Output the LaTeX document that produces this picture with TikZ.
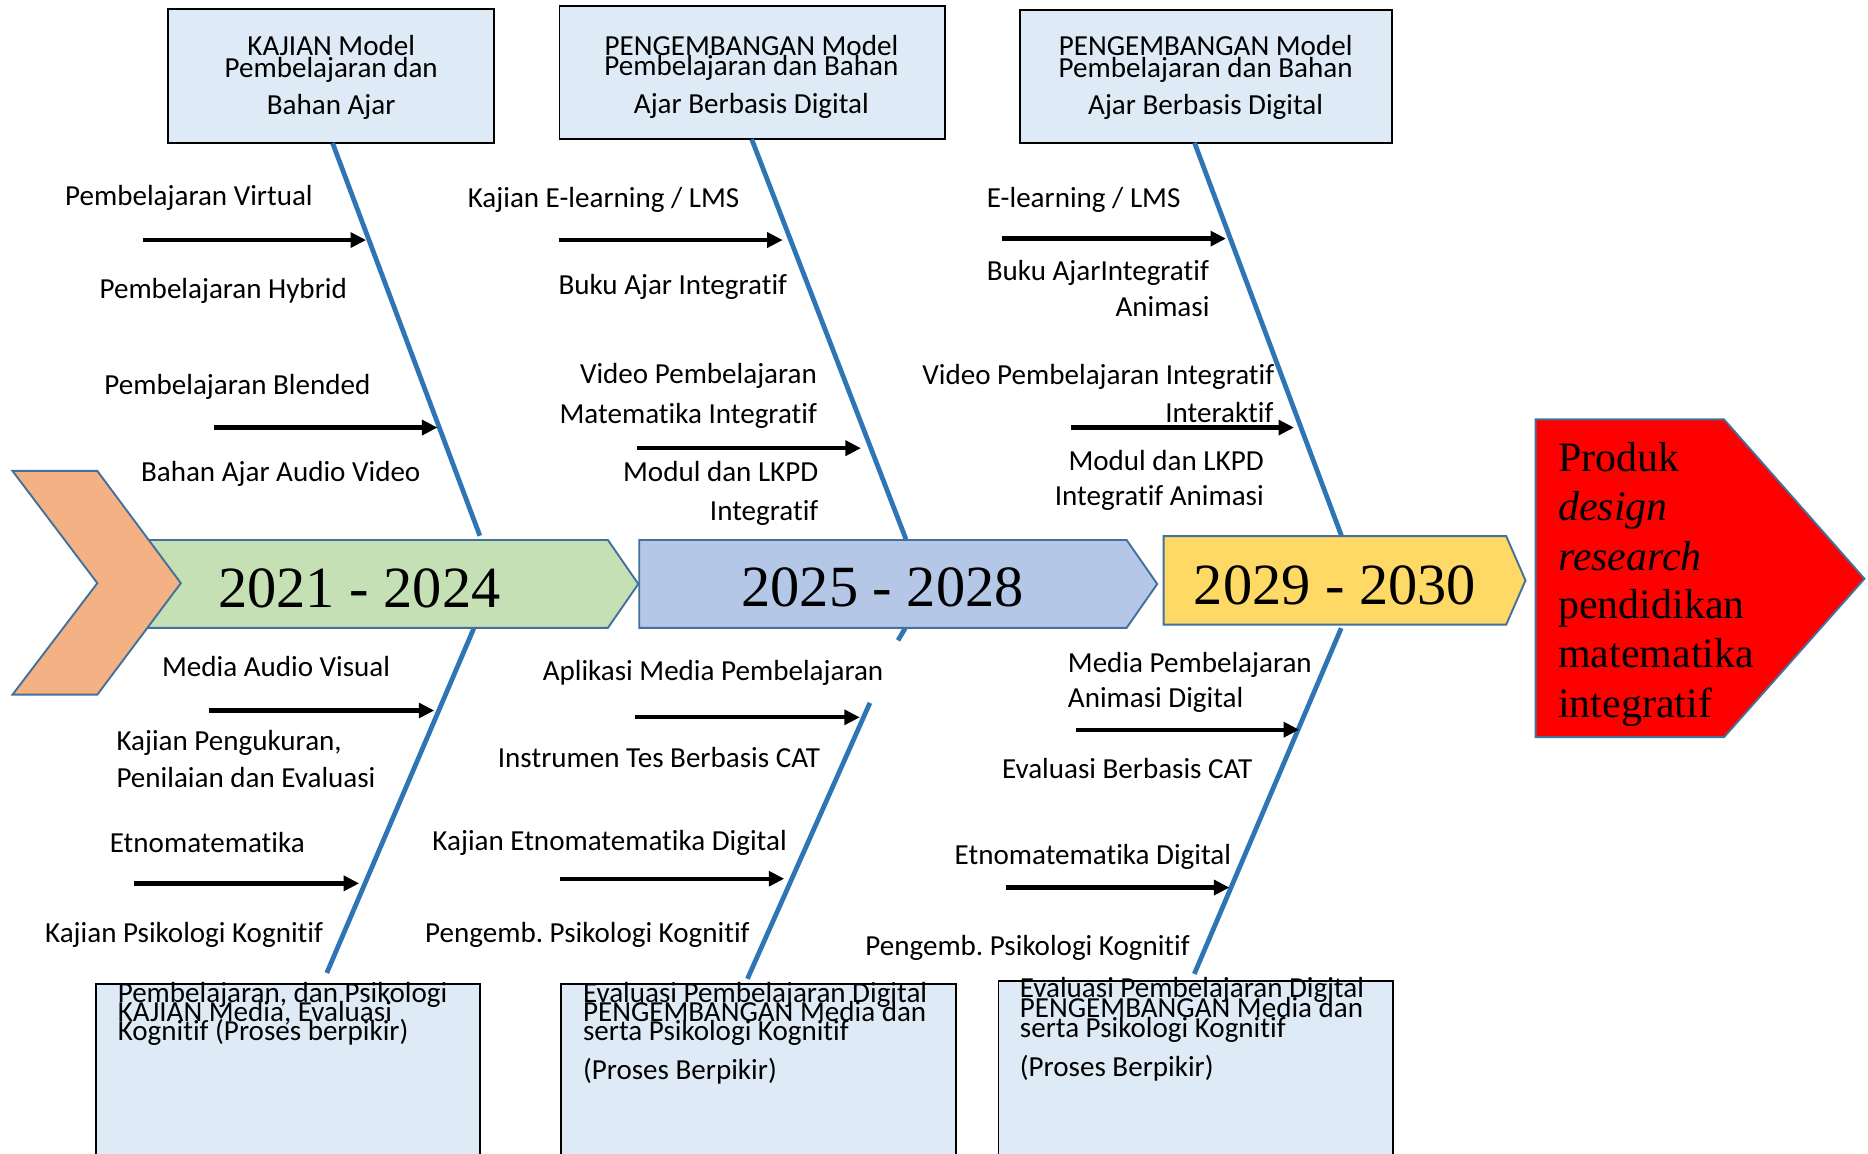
\documentclass[tikz,border=0pt]{standalone}
\usepackage{fontspec}
\setmainfont{Carlito}[Ligatures={NoCommon}]
\newfontfamily\timesf{Liberation Serif}
\usetikzlibrary{arrows.meta,calc}
\definecolor{boxblue}{HTML}{DEEBF7}
\definecolor{spineblue}{HTML}{2E75B6}
\definecolor{edgeblue}{HTML}{41719C}
\definecolor{greenf}{HTML}{C5E0B4}
\definecolor{bluef}{HTML}{B4C7E7}
\definecolor{yellowf}{HTML}{FFD966}
\definecolor{orangef}{HTML}{F4B183}
\definecolor{redf}{HTML}{FF0000}
\frenchspacing
\tikzset{
  lbl/.style={font=\fontsize{12.2}{14}\selectfont, inner sep=0pt, text=black},
  lw/.style={lbl, anchor=base west},
  le/.style={lbl, anchor=base east},
  lc/.style={lbl, anchor=base},
  topbox/.style={draw=black, line width=0.75pt, fill=boxblue, inner sep=0pt},
  bone/.style={draw=spineblue, line width=2pt},
  rib/.style={draw=black, line width=1.8pt, -{Triangle[length=6.5pt,width=6.2pt]}},
  phase/.style={draw=edgeblue, line width=0.8pt, line join=miter},
  year/.style={font=\timesf\fontsize{24.5}{29}\selectfont, inner sep=0pt, anchor=base},
  prod/.style={font=\timesf\fontsize{17.6}{20.6}\selectfont, inner sep=0pt, anchor=base west},
}
\begin{document}
\begin{tikzpicture}[x=0.5pt,y=-0.5pt]
\useasboundingbox (0,0) rectangle (1568,968);
\fill[white] (0,0) rectangle (1568,968);
\clip (0,0) rectangle (1568,968);

% ---------- top boxes ----------
\node[topbox, minimum width=136.75pt, minimum height=56.35pt] (k1) at (278,63.9) {};
\node[topbox, minimum width=161.75pt, minimum height=55.9pt] (k2) at (631.4,61) {};
\node[topbox, minimum width=156pt, minimum height=55.9pt] (k3) at (1012.5,64) {};

\node[lc] (k1a) at (278,46.4) {KAJIAN Model};
\node[lc] (k1b) at (278,65) {Pembelajaran dan};
\node[lc] (k1c) at (278,96.4) {Bahan Ajar};
\node[lc] (k2a) at (630.7,46.4) {PENGEMBANGAN Model};
\node[lc] (k2b) at (630.7,63.5) {Pembelajaran dan Bahan};
\node[lc] (k2c) at (630.7,94.9) {Ajar Berbasis Digital};
\node[lc] (k3a) at (1012,46.4) {PENGEMBANGAN Model};
\node[lc] (k3b) at (1012,65) {Pembelajaran dan Bahan};
\node[lc] (k3c) at (1012,96.4) {Ajar Berbasis Digital};

% ---------- bottom boxes ----------
\node[topbox, minimum width=161.1pt, minimum height=85pt, anchor=north west] (m1) at (79.8,825.4) {};
\node[topbox, minimum width=165.8pt, minimum height=85pt, anchor=north west] (m2) at (470.2,825.4) {};
\node[topbox, minimum width=165.6pt, minimum height=86pt, anchor=north west] (m3) at (837.3,822.8) {};

\node[lw] (m1a) at (98.5,841.1) {Pembelajaran, dan Psikologi};
\node[lw] (m1b) at (98.5,857.5) {KAJIAN Media, Evaluasi};
\node[lw] (m1c) at (98.5,873.5) {Kognitif (Proses berpikir)};
\node[lw] (m2a) at (489,841.1) {Evaluasi Pembelajaran Digital};
\node[lw] (m2b) at (489,857.5) {PENGEMBANGAN Media dan};
\node[lw] (m2c) at (489,873.5) {serta Psikologi Kognitif};
\node[lw] (m2d) at (489,906) {(Proses Berpikir)};
\node[lw] (m3a) at (855.7,837.3) {Evaluasi Pembelajaran Digital};
\node[lw] (m3b) at (855.7,854.4) {PENGEMBANGAN Media dan};
\node[lw] (m3c) at (855.7,870.5) {serta Psikologi Kognitif};
\node[lw] (m3d) at (855.7,903.3) {(Proses Berpikir)};

% ---------- bones ----------
\coordinate (u1t) at (279.2,120.2);
\coordinate (u1b) at (402.8,449.7);
\coordinate (u2t) at (631,116.9);
\coordinate (u2b) at (760.5,452.7);
\coordinate (u3t) at (1002.7,119.9);
\coordinate (u3b) at (1126,449.7);
\coordinate (d1t) at (397.9,527);
\coordinate (d1b) at (274.3,816.7);
\coordinate (d2t) at (760,527);
\coordinate (d2g) at (753.8,537.5);
\coordinate (d2h) at (730.2,590);
\coordinate (d2b) at (627.4,821.6);
\coordinate (d3t) at (1125.8,527.3);
\coordinate (d3b) at (1002.5,817.5);
\draw[bone] (u1t) -- (u1b);
\draw[bone] (u2t) -- (u2b);
\draw[bone] (u3t) -- (u3b);
\draw[bone] (d1t) -- (d1b);
\draw[bone] (d2t) -- (d2g);
\draw[bone] (d2h) -- (d2b);
\draw[bone] (d3t) -- (d3b);

% ---------- timeline ----------
\draw[phase, fill=greenf] (110,453.3) -- (510.3,453.3) -- (535.8,490.2) -- (510.3,527) -- (110,527) -- cycle;
\draw[phase, fill=orangef] (10.5,395.3) -- (81.7,395.3) -- (151.8,489.5) -- (81.7,583.1) -- (10.5,583.1) -- (81.7,489.5) -- cycle;
\draw[phase, fill=bluef] (536.6,453.3) -- (945.7,453.3) -- (971.4,490.2) -- (945.7,527) -- (536.6,527) -- cycle;
\draw[phase, fill=yellowf] (976.7,450) -- (1264.3,450) -- (1280.5,487.2) -- (1264.3,524.3) -- (976.7,524.3) -- cycle;
\draw[phase, fill=redf] (1289,352) -- (1447.1,352) -- (1565,485.8) -- (1447.1,618.8) -- (1289,618.8) -- cycle;

\node[year] (y1) at (301.7,510) {2021 - 2024};
\node[year] (y2) at (740.9,509) {2025 - 2028};
\node[year] (y3) at (1120.6,507) {2029 - 2030};

\node[prod] (p1) at (1307.6,396) {Produk};
\node[prod] (p2) at (1307.6,437) {\itshape design};
\node[prod] (p3) at (1307.6,479) {\itshape research};
\node[prod] (p4) at (1307.6,519) {pendidikan};
\node[prod] (p5) at (1307.6,560) {matematika};
\node[prod] (p6) at (1307.6,602) {integratif};

% ---------- ribs ----------
\coordinate (a1s) at (119.9,201.5);  \coordinate (a1e) at (307.3,201.5);
\coordinate (a2s) at (179.9,358.9);  \coordinate (a2e) at (367.2,358.9);
\coordinate (a3s) at (175.4,596.4);  \coordinate (a3e) at (364.5,596.4);
\coordinate (a4s) at (112.4,741.5);  \coordinate (a4e) at (301.5,741.5);
\coordinate (b1s) at (468.8,201.5);  \coordinate (b1e) at (657,201.5);
\coordinate (b2s) at (534.7,376.2);  \coordinate (b2e) at (722.7,376.2);
\coordinate (b3s) at (533.2,602.1);  \coordinate (b3e) at (721.7,602.1);
\coordinate (b4s) at (470.2,737.6);  \coordinate (b4e) at (658.3,737.6);
\coordinate (c1s) at (841,200.3);    \coordinate (c1e) at (1029.1,200.3);
\coordinate (c2s) at (898.6,358.9);  \coordinate (c2e) at (1086.2,358.9);
\coordinate (c3s) at (903,612.5);    \coordinate (c3e) at (1090.5,612.5);
\coordinate (c4s) at (844.4,745);    \coordinate (c4e) at (1032,745);
\foreach \r in {a1,a2,a3,a4,b1,b2,b3,b4,c1,c2,c3,c4}
  \draw[rib] (\r s) -- (\r e);

% ---------- labels: column 1 ----------
\node[lw] (t11) at (54.3,172.9) {Pembelajaran Virtual};
\node[lw] (t12) at (83.2,250.2) {Pembelajaran Hybrid};
\node[lw] (t13) at (87.3,331) {Pembelajaran Blended};
\node[lw] (t14) at (118,404) {Bahan Ajar Audio Video};
\node[lw] (t15) at (135.6,568) {Media Audio Visual};
\node[lw] (t16) at (97.4,630) {Kajian Pengukuran,};
\node[lw] (t17) at (97.4,661) {Penilaian dan Evaluasi};
\node[lw] (t18) at (91.8,716) {Etnomatematika};
\node[lw] (t19) at (37.5,791.5) {Kajian Psikologi Kognitif};

% ---------- labels: column 2 ----------
\node[lw] (t21) at (392.3,173.8) {Kajian E-learning / LMS};
\node[lw] (t22) at (468.4,247.2) {Buku Ajar Integratif};
\node[le] (t23) at (686.1,322.2) {Video Pembelajaran};
\node[le] (t24) at (686.1,355.8) {Matematika Integratif};
\node[le] (t25) at (687.3,404.3) {Modul dan LKPD};
\node[le] (t26) at (687.3,436.7) {Integratif};
\node[lw] (t27) at (455.2,570.8) {Aplikasi Media Pembelajaran};
\node[le] (t28) at (688.7,644.5) {Instrumen Tes Berbasis CAT};
\node[le] (t29) at (660.8,714.3) {Kajian Etnomatematika Digital};
\node[le] (t2a) at (629.6,791.5) {Pengemb. Psikologi Kognitif};

% ---------- labels: column 3 ----------
\node[lw] (t31) at (828,173.8) {E-learning / LMS};
\node[lw] (t32) at (828,235.2) {Buku AjarIntegratif};
\node[le] (t33) at (1015.6,265.8) {Animasi};
\node[le] (t34) at (1070,322.8) {Video Pembelajaran Integratif};
\node[le] (t35) at (1069.3,354.3) {Interaktif};
\node[le] (t36) at (1061.2,394.7) {Modul dan LKPD};
\node[le] (t37) at (1061.2,424.1) {Integratif Animasi};
\node[lw] (t38) at (896,564.7) {Media Pembelajaran};
\node[lw] (t39) at (896,593.8) {Animasi Digital};
\node[lw] (t3a) at (840.7,653.5) {Evaluasi Berbasis CAT};
\node[lw] (t3b) at (801,725.5) {Etnomatematika Digital};
\node[lw] (t3c) at (726,801.7) {Pengemb. Psikologi Kognitif};
\end{tikzpicture}
\end{document}
